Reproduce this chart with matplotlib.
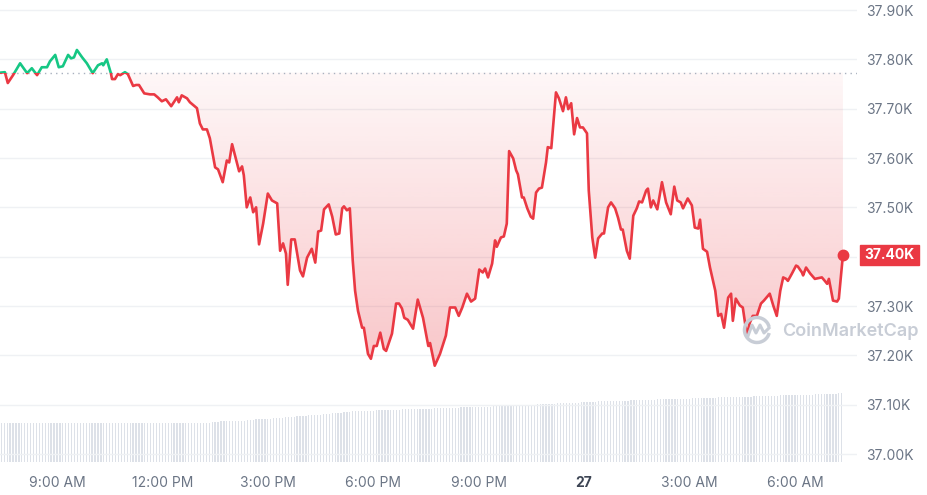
import numpy as np
import matplotlib.pyplot as plt
from matplotlib.patches import Rectangle, Arc
from matplotlib.lines import Line2D
from matplotlib.transforms import blended_transform_factory

plt.rcParams['font.family'] = ['Inter', 'DejaVu Sans']

# price, minutes after 9:00 AM on the 26th
minutes = [-97, -89, -84, -75, -63, -51, -43, -34, -26, -17, -12, -3, 3, 10, 19, 24, 29, 34,
           43, 51, 61, 70, 77, 79, 85, 92, 94, 99, 104, 108, 116, 121, 130, 135, 140, 149,
           159, 166, 172, 179, 186, 195, 205, 208, 213, 222, 227, 239, 244, 249, 256, 261,
           270, 275, 283, 290, 294, 299, 304, 311, 316, 319, 324, 330, 335, 340, 345, 352,
           360, 367, 376, 381, 386, 391, 394, 400, 406, 415, 420, 427, 435, 441, 446, 451,
           456, 464, 470, 476, 482, 487, 490, 495, 500, 505, 509, 514, 521, 524, 531, 536,
           541, 546, 552, 558, 562, 572, 579, 584, 589, 593, 599, 608, 616, 625, 634, 637,
           645, 654, 664, 671, 680, 686, 692, 700, 707, 714, 721, 727, 731, 736, 743, 748,
           751, 758, 763, 768, 772, 779, 784, 787, 794, 797, 803, 809, 813, 818, 823, 828,
           835, 838, 844, 852, 857, 864, 869, 873, 878, 883, 888, 893, 898, 905, 908, 914,
           919, 924, 931, 934, 941, 946, 953, 958, 963, 966, 973, 978, 984, 990, 994, 999,
           1006, 1009, 1014, 1018, 1025, 1033, 1040, 1048, 1054, 1059, 1065, 1069, 1077,
           1084, 1089, 1095, 1098, 1103, 1110, 1115, 1124, 1129, 1134, 1139, 1146, 1151,
           1154, 1159, 1166, 1171, 1178, 1183, 1188, 1195, 1202, 1207, 1217, 1223, 1229,
           1235, 1240, 1245, 1248, 1255, 1262, 1265, 1272, 1274, 1279, 1286, 1294, 1306,
           1311, 1315, 1318, 1325, 1332, 1335, 1342]
price = [37773, 37774, 37752, 37768, 37792, 37772, 37782, 37768, 37784, 37784, 37796, 37809,
         37784, 37786, 37809, 37802, 37804, 37819, 37804, 37792, 37772, 37788, 37792, 37788,
         37800, 37772, 37760, 37760, 37770, 37768, 37774, 37770, 37746, 37748, 37748, 37731,
         37729, 37729, 37723, 37715, 37719, 37705, 37723, 37713, 37727, 37721, 37713, 37701,
         37670, 37658, 37658, 37640, 37581, 37577, 37551, 37595, 37591, 37628, 37605, 37573,
         37583, 37565, 37500, 37520, 37490, 37500, 37425, 37467, 37528, 37514, 37508, 37412,
         37427, 37406, 37343, 37435, 37435, 37372, 37360, 37398, 37416, 37388, 37451, 37453,
         37496, 37506, 37481, 37445, 37447, 37498, 37502, 37494, 37498, 37392, 37331, 37290,
         37256, 37256, 37203, 37193, 37219, 37219, 37246, 37213, 37209, 37244, 37305, 37305,
         37295, 37276, 37272, 37254, 37313, 37276, 37219, 37225, 37179, 37203, 37240, 37297,
         37297, 37280, 37297, 37325, 37309, 37315, 37374, 37368, 37376, 37358, 37386, 37433,
         37420, 37439, 37441, 37467, 37614, 37599, 37575, 37567, 37520, 37520, 37498, 37481,
         37477, 37530, 37538, 37540, 37591, 37622, 37620, 37733, 37721, 37695, 37723, 37699,
         37711, 37648, 37681, 37662, 37662, 37650, 37534, 37439, 37398, 37437, 37447, 37447,
         37500, 37510, 37498, 37479, 37455, 37455, 37412, 37396, 37483, 37498, 37512, 37510,
         37534, 37538, 37500, 37514, 37496, 37551, 37510, 37486, 37542, 37514, 37510, 37498,
         37518, 37504, 37459, 37457, 37475, 37416, 37410, 37378, 37331, 37280, 37284, 37256,
         37317, 37325, 37270, 37315, 37301, 37297, 37240, 37266, 37280, 37280, 37305, 37311,
         37325, 37301, 37280, 37331, 37358, 37355, 37351, 37366, 37382, 37380, 37368, 37362,
         37378, 37366, 37355, 37358, 37351, 37345, 37355, 37311, 37309, 37315, 37404]

# 24h volume (billion USD), one bar every 5 minutes starting 7:25 AM
vol_start = -95
volume = [
    13.6, 13.6, 13.6, 13.6, 13.6, 13.6, 13.6, 13.6, 13.6, 13.6, 13.6, 13.6,
    13.6, 13.6, 13.6, 13.6, 13.6, 13.6, 13.6, 13.6, 13.6, 13.6, 13.6, 13.6,
    13.6, 13.6, 13.6, 13.6, 13.6, 13.6, 13.6, 13.6, 13.6, 13.6, 13.6, 13.6,
    13.6, 13.6, 13.6, 13.6, 13.6, 13.6, 13.6, 13.6, 13.6, 13.6, 13.6, 13.6,
    13.6, 13.6, 13.6, 13.6, 13.6, 13.6, 13.6, 13.6, 13.6, 13.6, 13.6, 13.6,
    13.6, 13.6, 13.6, 13.6, 13.6, 13.6, 13.6, 13.6, 13.6, 13.6, 13.6, 13.6,
    14.0, 14.1, 14.1, 14.2, 14.2, 14.3, 14.3, 14.3, 14.4, 14.4, 14.5, 14.5,
    14.6, 14.7, 14.8, 14.9, 15.0, 15.0, 15.1, 15.2, 15.2, 15.3, 15.3, 15.4,
    15.5, 15.6, 15.7, 15.8, 15.9, 16.0, 16.0, 16.1, 16.2, 16.3, 16.3, 16.4,
    16.5, 16.6, 16.7, 16.8, 16.9, 17.0, 17.1, 17.2, 17.3, 17.4, 17.5, 17.6,
    17.7, 17.8, 17.8, 17.9, 17.9, 18.0, 18.0, 18.0, 18.1, 18.1, 18.1, 18.2,
    18.2, 18.2, 18.3, 18.3, 18.3, 18.4, 18.4, 18.4, 18.5, 18.5, 18.5, 18.6,
    18.6, 18.7, 18.7, 18.7, 18.8, 18.8, 18.8, 18.9, 18.9, 18.9, 19.0, 19.0,
    19.0, 19.1, 19.1, 19.1, 19.2, 19.2, 19.2, 19.3, 19.3, 19.3, 19.4, 19.4,
    19.5, 19.5, 19.6, 19.6, 19.7, 19.7, 19.8, 19.8, 19.9, 19.9, 19.9, 20.0,
    20.0, 20.1, 20.1, 20.2, 20.2, 20.3, 20.3, 20.4, 20.4, 20.4, 20.5, 20.5,
    20.6, 20.6, 20.7, 20.7, 20.8, 20.8, 20.9, 20.9, 21.0, 21.0, 21.1, 21.1,
    21.2, 21.2, 21.3, 21.3, 21.3, 21.4, 21.4, 21.4, 21.5, 21.5, 21.5, 21.6,
    21.6, 21.6, 21.7, 21.7, 21.7, 21.8, 21.8, 21.8, 21.9, 21.9, 21.9, 22.0,
    22.0, 22.0, 22.1, 22.1, 22.1, 22.2, 22.2, 22.2, 22.3, 22.3, 22.3, 22.4,
    22.4, 22.4, 22.5, 22.5, 22.5, 22.6, 22.6, 22.6, 22.7, 22.7, 22.7, 22.8,
    22.8, 22.8, 22.9, 22.9, 22.9, 23.0, 23.0, 23.0, 23.1, 23.1, 23.1, 23.2,
    23.2, 23.2, 23.3, 23.3, 23.3, 23.4, 23.4, 23.4, 23.5, 23.5, 23.5, 23.6,
    23.6, 23.6, 23.7, 23.7, 23.7, 23.8, 23.8, 23.8, 23.9, 23.9, 24.0, 24.1,
]

tick_minutes = [0, 180, 360, 540, 720, 900, 1080, 1260]
tick_labels = ['9:00 AM', '12:00 PM', '3:00 PM', '6:00 PM', '9:00 PM', '27', '3:00 AM', '6:00 AM']
price_ticks = [37000, 37100, 37200, 37300, 37400, 37500, 37600, 37700, 37800, 37900]

RED = '#ea3943'
GREEN = '#16c784'
GREY = '#6b7585'
W, H = 928, 495

t = np.array(minutes)
p = np.array(price, dtype=float)
base = p[0]

fig = plt.figure(figsize=(W / 100, H / 100), dpi=100)
rect = [0, (H - 466) / H, 857 / W, 466 / H]
axv = fig.add_axes(rect)
ax = fig.add_axes(rect, sharex=axv)
ax.patch.set_alpha(0)

# volume bars
vt = vol_start + 5 * np.arange(len(volume))
axv.bar(vt, volume, width=2.2, color='#dde1e8', linewidth=0)
axv.set_ylim(-1.4, 161.7)
axv.set_axis_off()

# grid + baseline
for v in price_ticks:
    ax.axhline(v, color='#eff1f4', lw=1, zorder=0)
ax.axhline(base, color='#a9b1bf', lw=1, ls=(0, (1, 3)), zorder=2)

# gradient fill between baseline and price (below baseline)
low = np.minimum(p, base)
poly = ax.fill_between(t, low, base, facecolor='none', edgecolor='none')
n = 256
img = np.zeros((n, 1, 4))
img[..., 0], img[..., 1], img[..., 2] = 234 / 255, 57 / 255, 67 / 255
img[:, 0, 3] = np.linspace(0.30, 0.04, n)
im = ax.imshow(img, extent=[t[0], t[-1], 37150, base], origin='lower',
               aspect='auto', zorder=1, interpolation='bilinear')
im.set_clip_path(poly.get_paths()[0], transform=ax.transData)

# price line, green above open / red below
red_line, = ax.plot(t, p, color=RED, lw=1.9, zorder=3, solid_joinstyle='round')
red_line.set_clip_path(Rectangle((t[0] - 100, 36000), 3000, base - 36000, transform=ax.transData))
green_line, = ax.plot(t, p, color=GREEN, lw=1.9, zorder=3, solid_joinstyle='round')
green_line.set_clip_path(Rectangle((t[0] - 100, base), 3000, 2000, transform=ax.transData))
ax.plot(t[-1], p[-1], 'o', ms=7.5, color=RED, zorder=4, clip_on=False)

ax.set_xlim(-97.3, 1366)
ax.set_ylim(36975.7, 37920.3)

for s in ax.spines.values():
    s.set_visible(False)
ax.yaxis.tick_right()
ax.set_yticks(price_ticks, [f'{v / 1000:.2f}K' for v in price_ticks])
ax.set_xticks(tick_minutes, tick_labels)
ax.tick_params(axis='y', length=0, pad=6.5, labelsize=10, labelcolor=GREY)
ax.tick_params(axis='x', length=0, pad=7, labelsize=10, labelcolor=GREY)
ax.get_xticklabels()[5].set_fontweight('bold')
ax.get_xticklabels()[5].set_color('#3d4554')

# tick label hidden under the current price tag
for lbl, v in zip(ax.get_yticklabels(), price_ticks):
    if abs(v - p[-1]) < 30:
        lbl.set_visible(False)

# current price tag
tr = blended_transform_factory(ax.transAxes, ax.transData)
ax.add_patch(Rectangle((860 / 857, p[-1] - 20.3), 59 / 857, 40.5, transform=tr,
                       color=RED, clip_on=False, zorder=10))
ax.text(889.5 / 857, p[-1], f'{p[-1] / 1000:.2f}K', transform=tr, ha='center', va='center',
        color='white', fontweight='bold', fontsize=10, zorder=11, clip_on=False)

# watermark
wm = '#c8cdd6'
fig.add_artist(Arc((757 / W, 1 - 330 / H), 25 / W, 25 / H, theta1=25, theta2=335,
                   transform=fig.transFigure, color=wm, lw=2.5))
zx = np.array([748, 752, 756, 760, 764, 769]) / W
zy = 1 - np.array([336, 325, 333, 325, 333, 328]) / H
fig.add_artist(Line2D(zx, zy, transform=fig.transFigure, color=wm, lw=2.2))
fig.text(782 / W, 1 - 331 / H, 'CoinMarketCap', ha='left', va='center', color=wm,
         fontsize=13, fontweight='semibold')

fig.savefig('out.png', dpi=100, facecolor='white')
